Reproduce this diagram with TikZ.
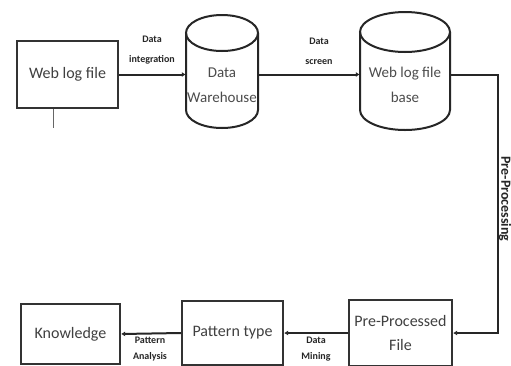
\documentclass[tikz,border=0pt]{standalone}
\usepackage{fontspec}
\setmainfont{Carlito}
\usetikzlibrary{arrows.meta,calc}
\tikzset{
  box/.style={draw=black!80, line width=2.2pt, align=center, inner sep=2pt,
    font=\fontsize{16}{24}\selectfont, text=black!75},
  cyltext/.style={align=center, inner sep=0pt, font=\fontsize{15}{25}\selectfont, text=black!70},
  cylline/.style={draw=black!85, line width=2pt},
  flow/.style={draw=black!85, line width=2pt, -{Latex[length=4pt,width=5pt]}},
  lbl/.style={align=center, inner sep=0pt, font=\bfseries\fontsize{10}{20}\selectfont, text=black!85},
  lowlbl/.style={lbl, font=\bfseries\fontsize{10}{16}\selectfont},
  hold/.style={inner sep=0pt, draw=none}
}
\begin{document}
\begin{tikzpicture}[x=1pt,y=-1pt]
  \useasboundingbox[fill=white] (0,0) rectangle (511,365);

  % process boxes
  \node[box, minimum width=101pt, minimum height=67pt] (wlf) at (67.5,74.5) {Web log file};
  \node[box, minimum width=103pt, minimum height=66pt] (pp) at (400.5,333) {Pre-Processed\\File};
  \node[box, minimum width=101pt, minimum height=64pt] (pt) at (232.5,333) {Pattern type};
  \node[box, minimum width=99pt, minimum height=60pt] (kn) at (70.5,334) {Knowledge};

  % storage cylinders: outline holders
  \node[hold, minimum width=72pt, minimum height=74.5pt] (dw) at (222,74.5) {};
  \node[hold, minimum width=90pt, minimum height=74.5pt] (wb) at (405,74.5) {};

  % Data Warehouse cylinder
  \draw[cylline] (222,33) ellipse [x radius=36, y radius=18];
  \draw[cylline] (186,33) -- (186,110) arc[start angle=180, end angle=0, x radius=36, y radius=18] -- (258,33);
  \node[cyltext] at (222,85) {Data\\Warehouse};

  % Web log file base cylinder
  \draw[cylline] (405,32) ellipse [x radius=45, y radius=20];
  \draw[cylline] (360,32) -- (360,110) arc[start angle=180, end angle=0, x radius=45, y radius=20] -- (450,32);
  \node[cyltext] at (405,85) {Web log file\\base};

  % short stub below the log file box
  \coordinate (stub) at (53,128);
  \draw[black!60, line width=1pt] (wlf.south -| stub) -- (stub);

  % connectors
  \draw[flow] (wlf.east) -- (dw.west);
  \draw[flow] (dw.east) -- (wb.west);
  \coordinate (bend) at (498,333);
  \draw[flow] (wb.east) -| (bend) -- (pp.east);
  \draw[flow] (pp.west) -- (pt.east);
  \draw[flow] (pt.west) -- (kn.east);

  % connector labels
  \node[lbl] at (152,50) {Data\\integration};
  \node[lbl] at (319,51) {Data\\screen};
  \node[lowlbl] at (316,349) {Data\\Mining};
  \node[lowlbl] at (150,349) {Pattern\\Analysis};
  \node[lbl, rotate=-90, font=\bfseries\fontsize{14}{16}\selectfont] at (505,199) {Pre-Processing};
\end{tikzpicture}
\end{document}
